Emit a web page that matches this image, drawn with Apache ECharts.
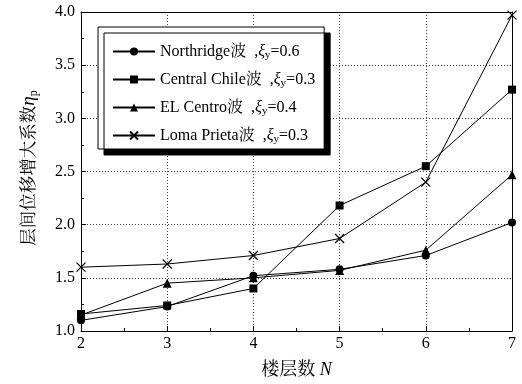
<!DOCTYPE html>
<html>
<head>
<meta charset="utf-8">
<script src="https://cdn.jsdelivr.net/npm/echarts@6/dist/echarts.min.js"></script>
<style>html,body{margin:0;padding:0;background:#fff;}#c{width:522px;height:384px;}</style>
</head>
<body>
<div id="c"></div>
<script>
const floors = [2, 3, 4, 5, 6, 7];
const northridge = [1.10, 1.23, 1.52, 1.58, 1.71, 2.02];
const centralChile = [1.16, 1.24, 1.40, 2.18, 2.55, 3.27];
const elCentro = [1.15, 1.45, 1.50, 1.57, 1.76, 2.47];
const lomaPrieta = [1.60, 1.63, 1.71, 1.87, 2.40, 3.97];
const seriesNames = ['Northridge波', 'Central Chile波', 'EL Centro波', 'Loma Prieta波'];
const xiValues = ['0.6', '0.3', '0.4', '0.3'];
const xTicks = [2, 3, 4, 5, 6, 7];
const yTicks = [1.0, 1.5, 2.0, 2.5, 3.0, 3.5, 4.0];

const serif = '"Liberation Serif","Times New Roman","Noto Serif CJK SC","Noto Sans CJK SC",serif';
const chart = echarts.init(document.getElementById('c'), null, {renderer: 'canvas'});
const pair = (arr) => floors.map((f, i) => [f, arr[i]]);
const xPath = 'path://M0,0L10,10M10,0L0,10';
const mk = (name, data, symbol, size, hollow) => ({
  name, type: 'line', data: pair(data), symbol, symbolSize: size,
  lineStyle: {color: '#000', width: 1},
  itemStyle: hollow ? {color: 'rgba(0,0,0,0)', borderColor: '#000', borderWidth: 1.2} : {color: '#000'},
  emphasis: {disabled: true}, animation: false, z: 3
});
const option = {
  animation: false,
  grid: {left: 81, right: 10, top: 12, bottom: 53},
  legend: {
    orient: 'vertical', left: 98, top: 27,
    padding: [15, 9, 4, 14], itemGap: 9, itemWidth: 42, itemHeight: 10,
    backgroundColor: '#fff', borderColor: '#000', borderWidth: 1,
    shadowColor: '#000', shadowBlur: 0, shadowOffsetX: 6, shadowOffsetY: 6,
    data: seriesNames,
    formatter: (n) => {
      const i = seriesNames.indexOf(n);
      return n + '  ,{xi|ξ}{sub|y}=' + xiValues[i];
    },
    textStyle: {
      fontFamily: serif, fontSize: 16, color: '#000', lineHeight: 18,
      rich: {
        xi: {fontFamily: serif, fontSize: 16, fontStyle: 'italic', color: '#000', lineHeight: 18},
        sub: {fontFamily: serif, fontSize: 11, color: '#000', lineHeight: 18, padding: [8, 0, 0, 0]}
      }
    }
  },
  xAxis: [{
    type: 'value', min: 2, max: 7, interval: 1,
    axisLine: {lineStyle: {color: '#000', width: 1}},
    axisTick: {inside: true, length: 5, lineStyle: {color: '#000'}},
    minorTick: {show: true, splitNumber: 2, length: 3, lineStyle: {color: '#000'}},
    splitLine: {show: true, lineStyle: {color: '#444', type: [1, 2], width: 1}},
    axisLabel: {fontFamily: serif, fontSize: 16, color: '#000', margin: 5,
      formatter: (v) => xTicks.includes(v) ? String(v) : ''},
    name: '楼层数 {n|N}', nameLocation: 'middle', nameGap: 30,
    nameTextStyle: {fontFamily: serif, fontSize: 18, color: '#000',
      rich: {n: {fontFamily: serif, fontSize: 18, fontStyle: 'italic', color: '#000'}}}
  }, {
    type: 'value', min: 2, max: 7, position: 'top',
    axisLine: {show: true, onZero: false, lineStyle: {color: '#000'}},
    axisTick: {show: false}, axisLabel: {show: false}, splitLine: {show: false}
  }],
  yAxis: [{
    type: 'value', min: 1, max: 4, interval: 0.5,
    axisLine: {show: true, lineStyle: {color: '#000', width: 1}},
    axisTick: {inside: true, length: 5, lineStyle: {color: '#000'}},
    minorTick: {show: true, splitNumber: 2, length: 3, lineStyle: {color: '#000'}},
    splitLine: {show: true, lineStyle: {color: '#444', type: [1, 2], width: 1}},
    axisLabel: {fontFamily: serif, fontSize: 16, color: '#000', margin: 6,
      formatter: (v) => v.toFixed(1)}
  }, {
    type: 'value', min: 1, max: 4, position: 'right',
    axisLine: {show: true, onZero: false, lineStyle: {color: '#000'}},
    axisTick: {show: false}, axisLabel: {show: false}, splitLine: {show: false}
  }],
  graphic: [{
    type: 'text', x: 29, y: 168, rotation: Math.PI / 2,
    style: {
      text: '层间位移增大系数{eta|η}{p|p}',
      fontFamily: serif, fontSize: 17.5, fill: '#000',
      align: 'center', verticalAlign: 'middle',
      rich: {
        eta: {fontFamily: serif, fontSize: 19, fontStyle: 'italic', fill: '#000'},
        p: {fontFamily: serif, fontSize: 12, fill: '#000', padding: [9, 0, 0, 0]}
      }
    }
  }],
  series: [
    mk(seriesNames[0], northridge, 'circle', 8, false),
    mk(seriesNames[1], centralChile, 'rect', 8, false),
    mk(seriesNames[2], elCentro, 'triangle', 9, false),
    mk(seriesNames[3], lomaPrieta, xPath, 9, true)
  ]
};
chart.setOption(option);
</script>
</body>
</html>
